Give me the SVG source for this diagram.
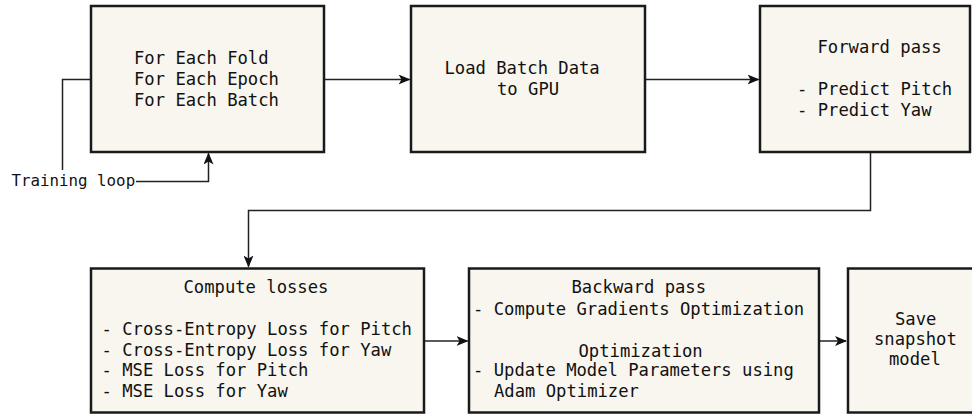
<svg xmlns="http://www.w3.org/2000/svg" width="972" height="414" viewBox="0 0 972 414">
  <style>
    .box { fill: #f8f6ee; stroke: #1a1a1a; stroke-width: 2.5; }
    .lbl { font-family: "DejaVu Sans Mono", "Liberation Mono", monospace; font-size: 17.2px; fill: #111; white-space: pre; }
    .small { font-size: 15.8px; }
    .wire { fill: none; stroke: #222; stroke-width: 1.5; }
  </style>
  <defs>
    <marker id="arrow" viewBox="0 0 12 10" refX="11" refY="5" markerWidth="12" markerHeight="10" markerUnits="userSpaceOnUse" orient="auto">
      <path d="M0,0 L12,5 L0,10 L3,5 Z" fill="#111"/>
    </marker>
  </defs>
  <rect width="972" height="414" fill="#ffffff"/>

  <!-- connectors -->
  <g id="connectors">
    <polyline class="wire" points="91,79.5 62.5,79.5 62.5,170"/>
    <polyline class="wire" points="136,181.5 208.5,181.5 208.5,153.5" marker-end="url(#arrow)"/>
    <line class="wire" x1="324" y1="79.5" x2="409.5" y2="79.5" marker-end="url(#arrow)"/>
    <line class="wire" x1="645" y1="79.5" x2="758.5" y2="79.5" marker-end="url(#arrow)"/>
    <polyline class="wire" points="870.5,152 870.5,210.5 248.5,210.5 248.5,266.5" marker-end="url(#arrow)"/>
    <line class="wire" x1="424" y1="341" x2="467.5" y2="341" marker-end="url(#arrow)"/>
    <line class="wire" x1="819" y1="341" x2="846" y2="341" marker-end="url(#arrow)"/>
    <text class="lbl small" x="11.5" y="185.5">Training loop</text>
  </g>

  <!-- loop header -->
  <g id="loop">
    <rect class="box" x="91" y="6" width="233" height="146"/>
    <text class="lbl" x="134" y="63.5">For Each Fold</text>
    <text class="lbl" x="134" y="84.5">For Each Epoch</text>
    <text class="lbl" x="134" y="105.5">For Each Batch</text>
  </g>

  <!-- data loading -->
  <g id="load">
    <rect class="box" x="411" y="6" width="234" height="146"/>
    <text class="lbl" x="444.5" y="73.5">Load Batch Data</text>
    <text class="lbl" x="497" y="95">to GPU</text>
  </g>

  <!-- forward pass -->
  <g id="forward">
    <rect class="box" x="760" y="6" width="210" height="146"/>
    <text class="lbl" x="817.5" y="53">Forward pass</text>
    <text class="lbl" x="797" y="95">- Predict Pitch</text>
    <text class="lbl" x="797" y="116">- Predict Yaw</text>
  </g>

  <!-- loss computation -->
  <g id="losses">
    <rect class="box" x="91" y="268.5" width="333" height="144"/>
    <text class="lbl" x="183.5" y="292.5">Compute losses</text>
    <text class="lbl" x="101.5" y="334.5">- Cross-Entropy Loss for Pitch</text>
    <text class="lbl" x="101.5" y="355.5">- Cross-Entropy Loss for Yaw</text>
    <text class="lbl" x="101.5" y="376">- MSE Loss for Pitch</text>
    <text class="lbl" x="101.5" y="397">- MSE Loss for Yaw</text>
  </g>

  <!-- backward pass and optimizer step -->
  <g id="backward">
    <rect class="box" x="469" y="268.5" width="350" height="144"/>
    <text class="lbl" x="571.5" y="292.5">Backward pass</text>
    <text class="lbl" x="473" y="315">- Compute Gradients Optimization</text>
    <text class="lbl" x="578.5" y="356.5">Optimization</text>
    <text class="lbl" x="473" y="376">- Update Model Parameters using</text>
    <text class="lbl" x="494" y="397">Adam Optimizer</text>
  </g>

  <!-- checkpoint -->
  <g id="snapshot">
    <rect class="box" x="848" y="268.5" width="140" height="144"/>
    <text class="lbl" x="895" y="325">Save</text>
    <text class="lbl" x="874" y="345">snapshot</text>
    <text class="lbl" x="889" y="365">model</text>
  </g>
</svg>
